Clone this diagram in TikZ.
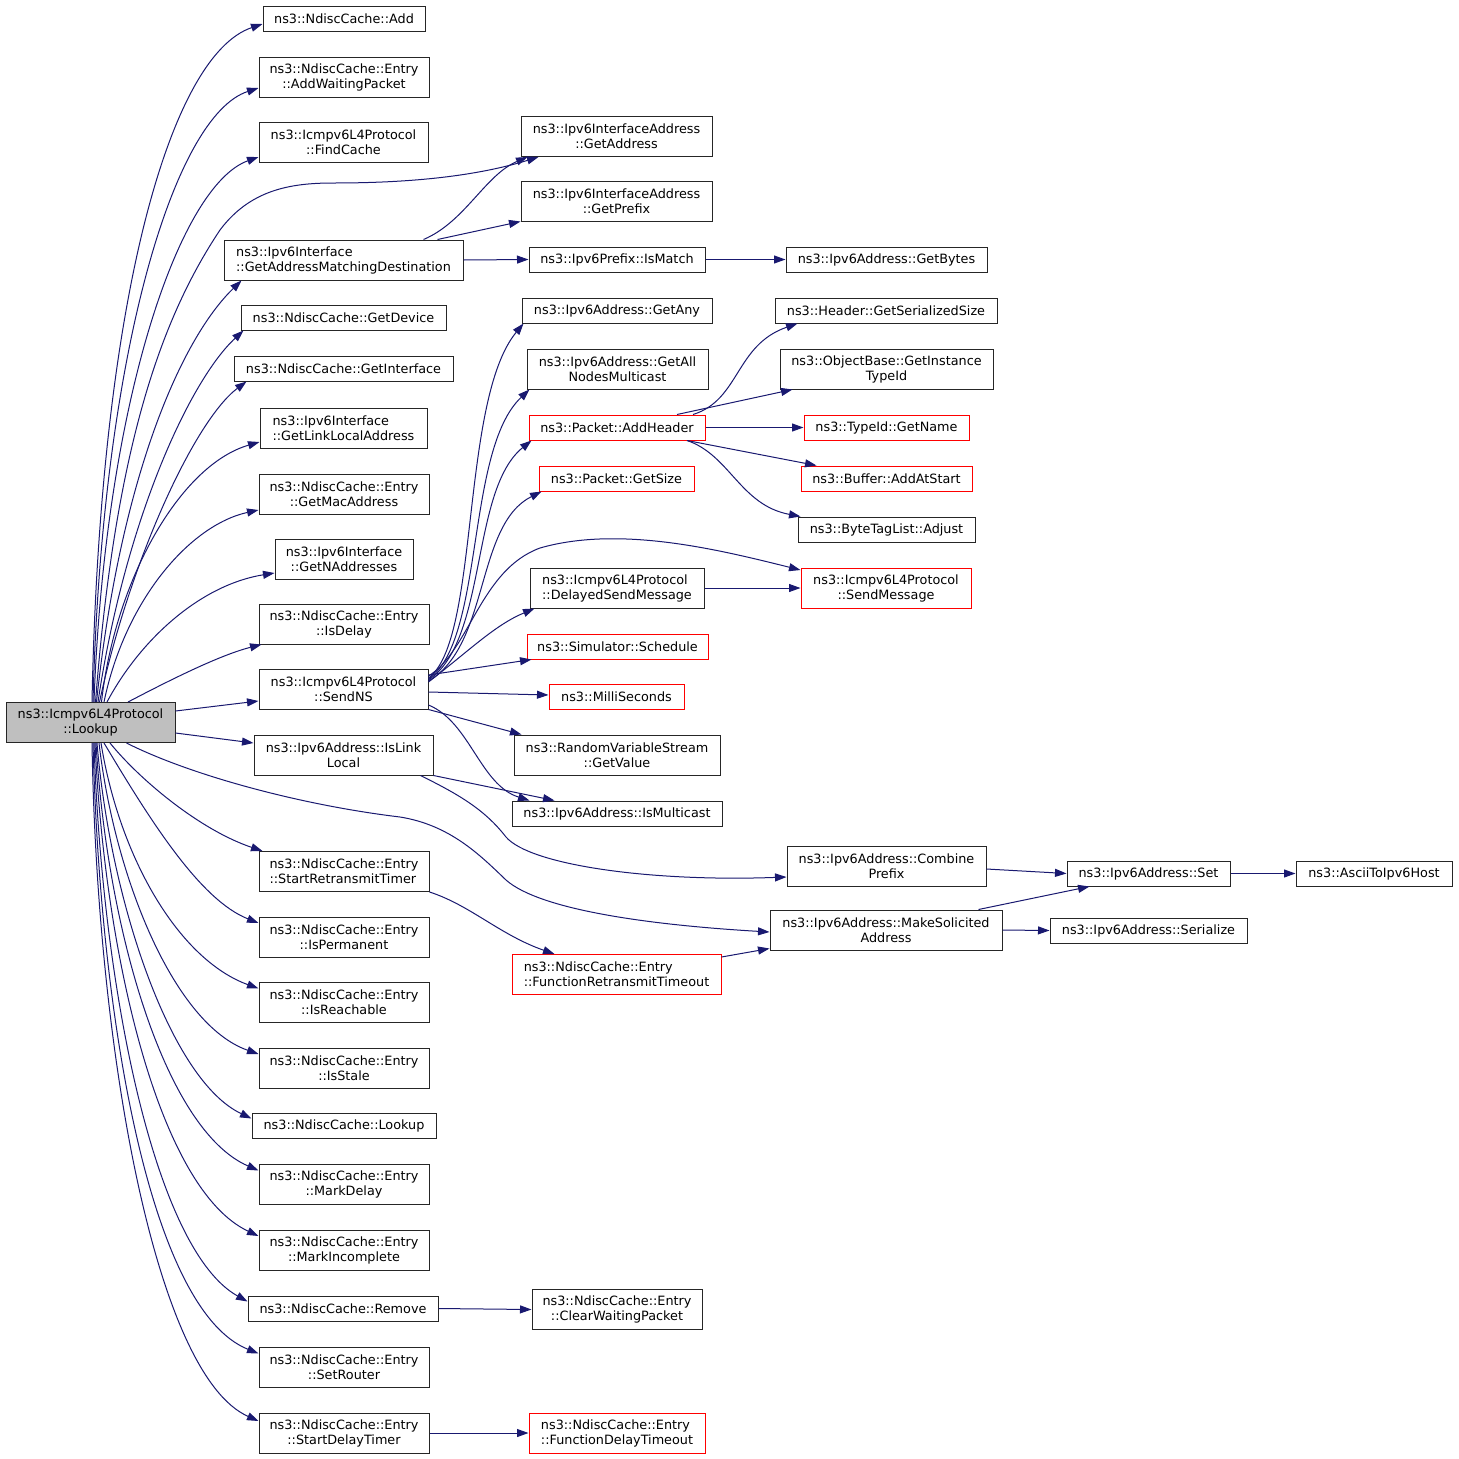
\documentclass[tikz,border=0pt]{standalone}
\usepackage{fontspec}
\setmainfont{DejaVu Sans}
\usetikzlibrary{arrows.meta}
\definecolor{edgec}{HTML}{191970}
\definecolor{rootfill}{HTML}{BFBFBF}
\begin{document}
\begin{tikzpicture}[x=1pt,y=-1pt,
 box/.style={draw=black!85,line width=1pt,fill=white,inner sep=0pt,align=center,font=\fontsize{12.8}{15}\selectfont},
 lbox/.style={box,align=left},
 rbox/.style={box,draw=red},
 rlbox/.style={lbox,draw=red},
 conn/.style={draw=edgec,line width=1pt,-{Triangle[length=11.5pt,width=8pt]}}]
\fill[white] (0,0) rectangle (1459,1459);
\useasboundingbox (0,0) rectangle (1459,1459);

% root
\node[box,fill=rootfill,minimum width=169,minimum height=40] (lookup) at (90.5,722.5) {ns3::Icmpv6L4Protocol\\::Lookup};

% column 1
\node[box,minimum width=162,minimum height=25] (add) at (344,18.5) {ns3::NdiscCache::Add};
\node[box,minimum width=170,minimum height=40] (awp) at (344,77) {ns3::NdiscCache::Entry\\::AddWaitingPacket};
\node[box,minimum width=169,minimum height=40] (fc) at (343.5,142) {ns3::Icmpv6L4Protocol\\::FindCache};
\node[lbox,minimum width=239,minimum height=40] (gamd) at (343.5,260) {ns3::Ipv6Interface\\::GetAddressMatchingDestination};
\node[box,minimum width=205,minimum height=25] (gdev) at (343.5,317.5) {ns3::NdiscCache::GetDevice};
\node[box,minimum width=219,minimum height=25] (gif) at (343.5,368.5) {ns3::NdiscCache::GetInterface};
\node[lbox,minimum width=167,minimum height=40] (glla) at (343.5,428) {ns3::Ipv6Interface\\::GetLinkLocalAddress};
\node[box,minimum width=170,minimum height=40] (gmac) at (344,494) {ns3::NdiscCache::Entry\\::GetMacAddress};
\node[box,minimum width=138,minimum height=40] (gna) at (344,559) {ns3::Ipv6Interface\\::GetNAddresses};
\node[box,minimum width=170,minimum height=40] (isdelay) at (344,624) {ns3::NdiscCache::Entry\\::IsDelay};
\node[box,minimum width=169,minimum height=40] (sendns) at (343.5,689) {ns3::Icmpv6L4Protocol\\::SendNS};
\node[box,minimum width=179,minimum height=40] (isll) at (343.5,755) {ns3::Ipv6Address::IsLink\\Local};
\node[lbox,minimum width=170,minimum height=40] (srt) at (344,871.5) {ns3::NdiscCache::Entry\\::StartRetransmitTimer};
\node[box,minimum width=170,minimum height=40] (isperm) at (344,937) {ns3::NdiscCache::Entry\\::IsPermanent};
\node[box,minimum width=170,minimum height=40] (isreach) at (344,1002.5) {ns3::NdiscCache::Entry\\::IsReachable};
\node[box,minimum width=170,minimum height=40] (isstale) at (344,1068) {ns3::NdiscCache::Entry\\::IsStale};
\node[box,minimum width=184,minimum height=25] (ndlookup) at (344,1125.5) {ns3::NdiscCache::Lookup};
\node[box,minimum width=170,minimum height=40] (markdelay) at (344,1184.5) {ns3::NdiscCache::Entry\\::MarkDelay};
\node[box,minimum width=170,minimum height=40] (markinc) at (344,1250) {ns3::NdiscCache::Entry\\::MarkIncomplete};
\node[box,minimum width=190,minimum height=25] (remove) at (343,1308.5) {ns3::NdiscCache::Remove};
\node[box,minimum width=170,minimum height=40] (setrouter) at (344,1367.5) {ns3::NdiscCache::Entry\\::SetRouter};
\node[box,minimum width=170,minimum height=40] (sdt) at (344,1433) {ns3::NdiscCache::Entry\\::StartDelayTimer};

% column 2
\node[box,minimum width=191,minimum height=40] (getaddr) at (616.5,136.5) {ns3::Ipv6InterfaceAddress\\::GetAddress};
\node[box,minimum width=191,minimum height=40] (getprefix) at (616.5,201) {ns3::Ipv6InterfaceAddress\\::GetPrefix};
\node[box,minimum width=176,minimum height=25] (ismatch) at (617,259.5) {ns3::Ipv6Prefix::IsMatch};
\node[box,minimum width=190,minimum height=25] (getany) at (617,310.5) {ns3::Ipv6Address::GetAny};
\node[box,minimum width=181,minimum height=40] (gann) at (617.5,369) {ns3::Ipv6Address::GetAll\\NodesMulticast};
\node[rbox,minimum width=176,minimum height=25] (addheader) at (617,427.5) {ns3::Packet::AddHeader};
\node[rbox,minimum width=155,minimum height=25] (getsize) at (616.5,478.5) {ns3::Packet::GetSize};
\node[lbox,minimum width=174,minimum height=40] (dsm) at (617,588) {ns3::Icmpv6L4Protocol\\::DelayedSendMessage};
\node[rbox,minimum width=181,minimum height=25] (schedule) at (617.5,646.5) {ns3::Simulator::Schedule};
\node[rbox,minimum width=135,minimum height=25] (ms) at (616.5,696.5) {ns3::MilliSeconds};
\node[box,minimum width=206,minimum height=40] (getvalue) at (617,755) {ns3::RandomVariableStream\\::GetValue};
\node[box,minimum width=210,minimum height=25] (ismc) at (617,813.5) {ns3::Ipv6Address::IsMulticast};
\node[rlbox,minimum width=209,minimum height=40] (frt) at (616.5,974.5) {ns3::NdiscCache::Entry\\::FunctionRetransmitTimeout};
\node[box,minimum width=170,minimum height=40] (cwp) at (617,1309.5) {ns3::NdiscCache::Entry\\::ClearWaitingPacket};
\node[rlbox,minimum width=176,minimum height=40] (fdt) at (617,1433) {ns3::NdiscCache::Entry\\::FunctionDelayTimeout};

% column 3
\node[box,minimum width=201,minimum height=25] (getbytes) at (886.5,259.5) {ns3::Ipv6Address::GetBytes};
\node[box,minimum width=222,minimum height=25] (gss) at (886,310.5) {ns3::Header::GetSerializedSize};
\node[box,minimum width=213,minimum height=40] (gitid) at (886.5,369) {ns3::ObjectBase::GetInstance\\TypeId};
\node[rbox,minimum width=165,minimum height=25] (getname) at (886.5,427.5) {ns3::TypeId::GetName};
\node[rbox,minimum width=171,minimum height=25] (aas) at (886.5,478.5) {ns3::Buffer::AddAtStart};
\node[box,minimum width=177,minimum height=25] (adjust) at (886.5,529.5) {ns3::ByteTagList::Adjust};
\node[rbox,minimum width=170,minimum height=40] (sendmsg) at (886,588) {ns3::Icmpv6L4Protocol\\::SendMessage};
\node[box,minimum width=199,minimum height=40] (combine) at (886.5,866) {ns3::Ipv6Address::Combine\\Prefix};
\node[box,minimum width=232,minimum height=40] (mksol) at (886,930) {ns3::Ipv6Address::MakeSolicited\\Address};

% column 4 / 5
\node[box,minimum width=163,minimum height=25] (setaddr) at (1148.5,873.5) {ns3::Ipv6Address::Set};
\node[box,minimum width=197,minimum height=25] (serialize) at (1148.5,930.5) {ns3::Ipv6Address::Serialize};
\node[box,minimum width=156,minimum height=25] (ascii) at (1374,873.5) {ns3::AsciiToIpv6Host};

% ---- edges from root, upper
\draw[conn] ([xshift=1.5pt]lookup.north) .. controls (100,300) and (170,55) .. ([yshift=-5.5pt]add.west);
\draw[conn] ([xshift=2.5pt]lookup.north) .. controls (102,350) and (175,115) .. ([yshift=-11pt]awp.west);
\draw[conn] ([xshift=3.5pt]lookup.north) .. controls (105,400) and (180,185) .. ([yshift=-15pt]fc.west);
\draw[conn] ([xshift=5pt]lookup.north) .. controls (115,450) and (160,320) .. (220,230)
   .. controls (250,190) and (290,183) .. (333,183)
   .. controls (400,183) and (470,178) .. ([xshift=-78pt]getaddr.south);
\draw[conn] ([xshift=6pt]lookup.north) .. controls (120,480) and (180,340) .. ([xshift=18pt]gamd.south west);
\draw[conn] ([xshift=7.5pt]lookup.north) .. controls (125,520) and (190,380) .. ([xshift=3pt]gdev.south west);
\draw[conn] ([xshift=9pt]lookup.north) .. controls (130,560) and (195,420) .. ([xshift=13pt]gif.south west);
\draw[conn] ([xshift=11pt]lookup.north) .. controls (115,580) and (180,465) .. ([yshift=-14pt]glla.west);
\draw[conn] ([xshift=13.5pt]lookup.north) .. controls (125,600) and (190,525) .. ([yshift=-16pt]gmac.west);
\draw[conn] ([xshift=16.5pt]lookup.north) .. controls (140,640) and (200,585) .. ([yshift=-14pt]gna.west);
\draw[conn] ([xshift=37.5pt]lookup.north) .. controls (170,680) and (220,655) .. ([xshift=3pt]isdelay.south west);
\draw[conn] ([yshift=11.5pt]lookup.east) -- ([yshift=-12pt]sendns.west);
\draw[conn] ([yshift=-10.5pt]lookup.east) -- ([yshift=12pt]isll.west);

% ---- edges from root, lower
\draw[conn] ([xshift=19.5pt]lookup.south) .. controls (140,780) and (200,830) .. ([xshift=4pt]srt.north west);
\draw[conn] ([xshift=36pt]lookup.south) .. controls (190,775) and (300,805) .. (400,817)
   .. controls (450,825) and (480,855) .. (506,880)
   .. controls (540,910) and (650,925) .. ([yshift=-2pt]mksol.west);
\draw[conn] ([xshift=13.5pt]lookup.south) .. controls (150,820) and (200,900) .. ([yshift=14pt]isperm.west);
\draw[conn] ([xshift=10.5pt]lookup.south) .. controls (120,860) and (180,960) .. ([yshift=14pt]isreach.west);
\draw[conn] ([xshift=8.5pt]lookup.south) .. controls (115,880) and (175,1025) .. ([yshift=14pt]isstale.west);
\draw[conn] ([xshift=6.5pt]lookup.south) .. controls (110,900) and (170,1080) .. ([yshift=7pt]ndlookup.west);
\draw[conn] ([xshift=5.5pt]lookup.south) .. controls (107,930) and (165,1130) .. ([yshift=14pt]markdelay.west);
\draw[conn] ([xshift=4.5pt]lookup.south) .. controls (105,960) and (160,1190) .. ([yshift=14pt]markinc.west);
\draw[conn] ([xshift=3.5pt]lookup.south) .. controls (102,990) and (155,1250) .. ([yshift=7pt]remove.west);
\draw[conn] ([xshift=2.5pt]lookup.south) .. controls (100,1020) and (150,1310) .. ([yshift=14pt]setrouter.west);
\draw[conn] ([xshift=1.5pt]lookup.south) .. controls (97,1050) and (155,1375) .. ([yshift=12pt]sdt.west);

% ---- GetAddressMatchingDestination
\draw[conn] ([xshift=80pt]gamd.north) .. controls (465,222) and (485,175) .. ([xshift=7pt]getaddr.south west);
\draw[conn] ([xshift=94pt]gamd.north) -- (getprefix.south west);
\draw[conn] (gamd.east) -- (ismatch.west);
\draw[conn] (ismatch) -- (getbytes);

% ---- SendNS
\draw[conn] ([yshift=11pt]sendns.east) .. controls (480,640) and (460,400) .. ([xshift=2pt]getany.south west);
\draw[conn] ([yshift=10pt]sendns.east) .. controls (485,640) and (465,450) .. ([xshift=3pt]gann.south west);
\draw[conn] ([yshift=9pt]sendns.east) .. controls (488,640) and (470,490) .. ([xshift=3pt]addheader.south west);
\draw[conn] ([yshift=8pt]sendns.east) .. controls (490,645) and (475,525) .. ([xshift=3pt]getsize.south west);
\draw[conn] ([yshift=13pt]sendns.east) .. controls (470,650) and (480,570) .. (540,548)
   .. controls (620,525) and (720,550) .. ([yshift=18pt]sendmsg.west);
\draw[conn] ([yshift=7pt]sendns.east) .. controls (470,650) and (495,625) .. ([xshift=5pt]dsm.south west);
\draw[conn] ([yshift=14pt]sendns.east) -- ([xshift=5pt]schedule.south west);
\draw[conn] ([yshift=-3pt]sendns.east) -- ([yshift=1.5pt]ms.west);
\draw[conn] (sendns.south east) -- ([xshift=8pt]getvalue.north west);
\draw[conn] ([yshift=-16pt]sendns.east) .. controls (470,722) and (480,785) .. ([xshift=18pt]ismc.north west);

% ---- IsLinkLocal
\draw[conn] (isll.south east) -- ([xshift=43pt]ismc.north west);
\draw[conn] ([xshift=-13pt]isll.south east) .. controls (460,795) and (485,810) .. (506,837)
   .. controls (530,865) and (650,882) .. ([yshift=-11pt]combine.west);

% ---- AddHeader
\draw[conn] ([xshift=76pt]addheader.north) .. controls (740,400) and (735,345) .. ([xshift=23pt]gss.south west);
\draw[conn] ([xshift=60pt]addheader.north) -- ([xshift=13pt]gitid.south west);
\draw[conn] (addheader.east) -- (getname.west);
\draw[conn] ([xshift=70pt]addheader.south) -- ([xshift=16pt]aas.north west);
\draw[conn] ([xshift=70pt]addheader.south) .. controls (730,455) and (740,505) .. ([xshift=3pt]adjust.north west);

% ---- others
\draw[conn] (dsm.east) -- (sendmsg.west);
\draw[conn] (srt.south east) .. controls (470,905) and (500,935) .. ([xshift=43pt]frt.north west);
\draw[conn] ([yshift=-3pt]frt.north east) -- ([yshift=2pt]mksol.south west);
\draw[conn] ([yshift=-3pt]combine.east) -- (setaddr.west);
\draw[conn] ([xshift=-24pt]mksol.north east) -- ([xshift=23pt]setaddr.south west);
\draw[conn] (mksol.east) -- (serialize.west);
\draw[conn] (setaddr) -- (ascii);
\draw[conn] (remove.east) -- (cwp.west);
\draw[conn] (sdt.east) -- (fdt.west);
\end{tikzpicture}
\end{document}
